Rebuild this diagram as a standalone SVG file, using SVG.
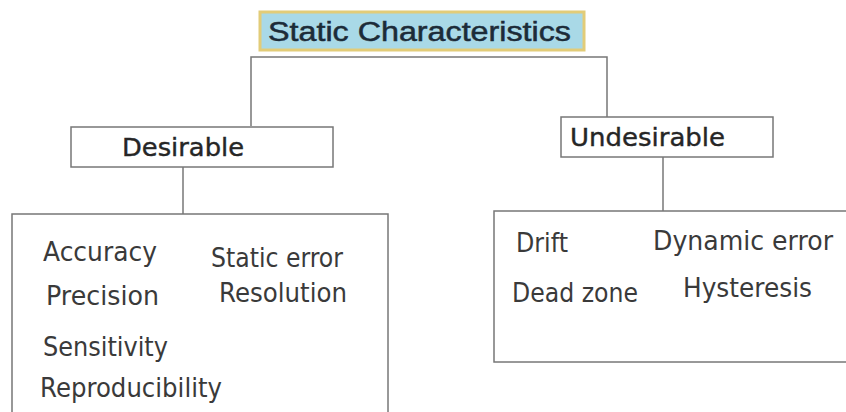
<svg xmlns="http://www.w3.org/2000/svg" width="846" height="412" viewBox="0 0 846 412">
<style>
.box{fill:#fff;stroke:#777;stroke-width:1.5}
.ln{fill:none;stroke:#777;stroke-width:1.5}
.t{font-family:"DejaVu Sans","Liberation Sans",sans-serif;font-size:26px;fill:#3a3a3a}
.h{font-family:"DejaVu Sans","Liberation Sans",sans-serif;font-size:25px;fill:#262626;stroke:#262626;stroke-width:0.4}
</style>
<rect width="846" height="412" fill="#fff"/>
<g id="connectors">
<polyline class="ln" points="251,126 251,57 607,57 607,117"/>
<line class="ln" x1="183" y1="167" x2="183" y2="214"/>
<line class="ln" x1="663" y1="157" x2="663" y2="211"/>
</g>
<g id="title">
<rect x="260" y="12" width="324" height="38" fill="#a9d9e7" stroke="#e2cc78" stroke-width="3"/>
<text x="268" y="41" font-family="Liberation Sans,Arial,sans-serif" font-size="27" fill="#1c2b38" stroke="#1c2b38" stroke-width="0.5" textLength="303" lengthAdjust="spacingAndGlyphs">Static Characteristics</text>
</g>
<g id="desirable">
<rect class="box" x="71" y="127" width="262" height="40"/>
<text class="h" x="122" y="156" textLength="122" lengthAdjust="spacingAndGlyphs">Desirable</text>
</g>
<g id="undesirable">
<rect class="box" x="561" y="117" width="212" height="40"/>
<text class="h" x="570" y="146" textLength="155" lengthAdjust="spacingAndGlyphs">Undesirable</text>
</g>
<g id="desirable-list">
<rect class="box" x="12" y="214" width="376" height="210"/>
<text class="t" x="43" y="261" textLength="114" lengthAdjust="spacingAndGlyphs">Accuracy</text>
<text class="t" x="46" y="305" textLength="113" lengthAdjust="spacingAndGlyphs">Precision</text>
<text class="t" x="43" y="356" textLength="125" lengthAdjust="spacingAndGlyphs">Sensitivity</text>
<text class="t" x="40" y="397" textLength="182" lengthAdjust="spacingAndGlyphs">Reproducibility</text>
<text class="t" x="211" y="267" textLength="132" lengthAdjust="spacingAndGlyphs">Static error</text>
<text class="t" x="219" y="302" textLength="128" lengthAdjust="spacingAndGlyphs">Resolution</text>
</g>
<g id="undesirable-list">
<rect class="box" x="494" y="211" width="360" height="151"/>
<text class="t" x="516" y="252" textLength="52" lengthAdjust="spacingAndGlyphs">Drift</text>
<text class="t" x="653" y="250" textLength="180" lengthAdjust="spacingAndGlyphs">Dynamic error</text>
<text class="t" x="512" y="302" textLength="126" lengthAdjust="spacingAndGlyphs">Dead zone</text>
<text class="t" x="683" y="297" textLength="129" lengthAdjust="spacingAndGlyphs">Hysteresis</text>
</g>
</svg>
